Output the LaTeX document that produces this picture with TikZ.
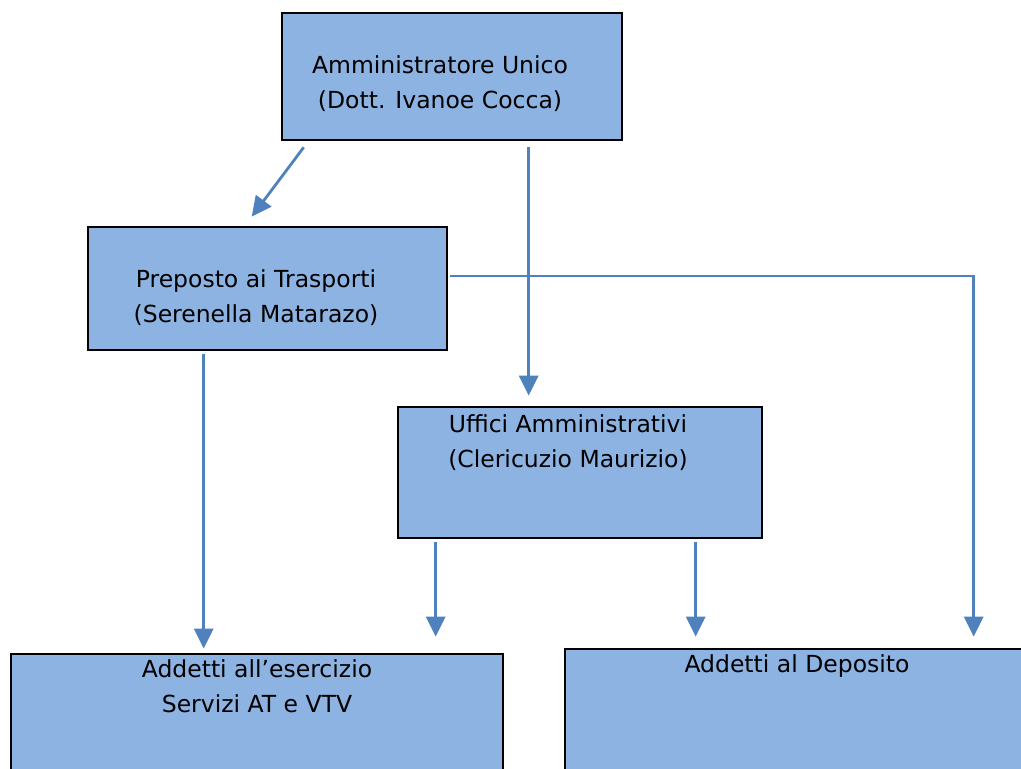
\documentclass[tikz,border=0pt]{standalone}
\usepackage{fontspec}
\setmainfont{DejaVu Sans}
\usetikzlibrary{arrows.meta,calc}
\definecolor{boxfill}{HTML}{8DB3E2}
\definecolor{arrowblue}{HTML}{4F81BD}
\tikzset{
  orgbox/.style={draw=black,line width=2.6pt,fill=boxfill,rectangle,inner sep=0pt},
  lbl/.style={font=\fontsize{23.5}{35}\selectfont,align=center,inner sep=0pt,text=black},
  conn/.style={draw=arrowblue,line width=2.8pt,-{Triangle[length=20pt,width=19pt]}},
}
\begin{document}
\begin{tikzpicture}[x=1pt,y=-1pt]
\useasboundingbox (0,0) rectangle (1021,769);
\clip (0,0) rectangle (1021,769);
% boxes
\node[orgbox,minimum width=340pt,minimum height=127pt] (amm) at (452,76.5) {};
\node[orgbox,minimum width=359pt,minimum height=123pt] (prep) at (267.5,288.5) {};
\node[orgbox,minimum width=364pt,minimum height=131pt] (uff) at (580,472.5) {};
\node[orgbox,minimum width=492pt,minimum height=140pt] (ese) at (257,724) {};
\node[orgbox,minimum width=470pt,minimum height=140pt] (dep) at (800,719) {};
% labels
\node[lbl] (tamm) at (440,84) {Amministratore Unico\\(Dott. Ivanoe Cocca)};
\node[lbl] (tprep) at (256,298) {Preposto ai Trasporti\\(Serenella Matarazo)};
\node[lbl] (tuff) at (568,443) {Uffici Amministrativi\\(Clericuzio Maurizio)};
\node[lbl] (tese) at (257,686) {Addetti all’esercizio\\Servizi AT e VTV};
\node[lbl] (tdep) at (797,666) {Addetti al Deposito};
% connector coordinates
\coordinate (a1) at ($(amm.south west)+(23,6)$);
\coordinate (a2) at ($(amm.south west)+(248,6)$);
\coordinate (p1) at ($(prep.north west)+(165,-9)$);
\coordinate (p2) at ($(prep.south west)+(117,3)$);
\coordinate (p3) at ($(prep.east)+(2,-12.5)$);
\coordinate (u1) at ($(uff.north west)+(132,-10)$);
\coordinate (u2) at ($(uff.south west)+(39,3)$);
\coordinate (u3) at ($(uff.south west)+(299,3)$);
\coordinate (e1) at ($(ese.north west)+(194,-4)$);
\coordinate (e2) at ($(ese.north west)+(426,-16)$);
\coordinate (d1) at ($(dep.north west)+(132,-11)$);
\coordinate (d2) at ($(dep.north west)+(410,-11)$);
% connectors
\draw[conn] (a1) -- (p1);
\draw[conn] (a2) -- (u1);
\draw[conn] (p2) -- (e1);
\draw[conn] (u2) -- (e2);
\draw[conn] (u3) -- (d1);
\draw[conn] (p3) -| (d2);
\end{tikzpicture}
\end{document}
